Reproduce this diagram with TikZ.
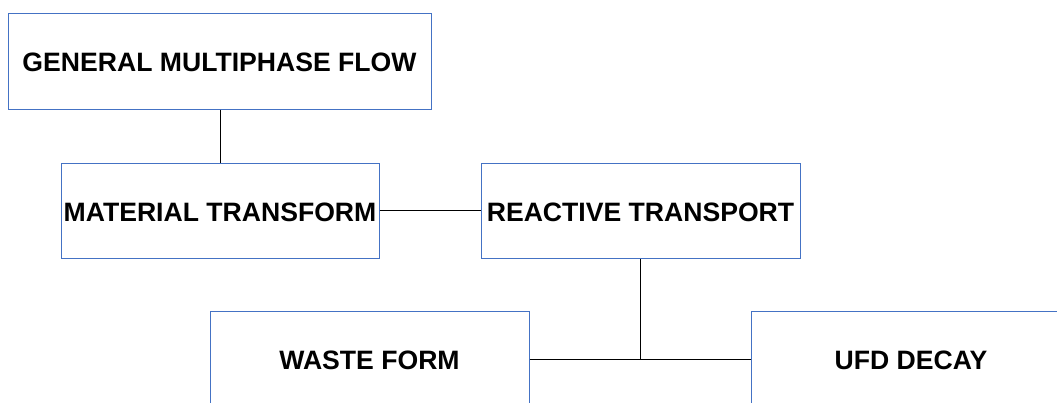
\documentclass[tikz,border=0pt]{standalone}
\usepackage{fontspec}
\setmainfont{Liberation Sans}
\definecolor{boxblue}{RGB}{68,114,196}
\begin{document}
\begin{tikzpicture}[x=1pt,y=-1pt,
  block/.style={draw=boxblue, line width=1pt, rectangle, inner sep=0pt,
    minimum width=319pt, minimum height=96pt, text height=23pt, text depth=2pt,
    font=\fontsize{26.6}{30}\selectfont\bfseries},
  link/.style={draw=black, line width=1pt}]
  \useasboundingbox (0,0) rectangle (1057,402);
  \clip (0,0) rectangle (1057,402);
  \node[block, minimum width=423pt] (gmf) at (219.5,61) {GENERAL MULTIPHASE FLOW};
  \node[block, minimum width=318pt, minimum height=95pt] (mt) at (220,210.5) {MATERIAL TRANSFORM};
  \node[block, minimum height=95pt] (rt) at (640.5,210.5) {REACTIVE TRANSPORT};
  \node[block] (wf) at (369.5,359) {WASTE FORM};
  \node[block, minimum width=320pt] (ufd) at (911,359) {UFD DECAY};
  \coordinate (join) at (rt.south |- wf.east);
  \draw[link] (gmf.south -| mt.north) -- (mt.north);
  \draw[link] (mt) -- (rt);
  \draw[link] (rt) -- (join);
  \draw[link] (wf) -- (ufd);
\end{tikzpicture}
\end{document}
